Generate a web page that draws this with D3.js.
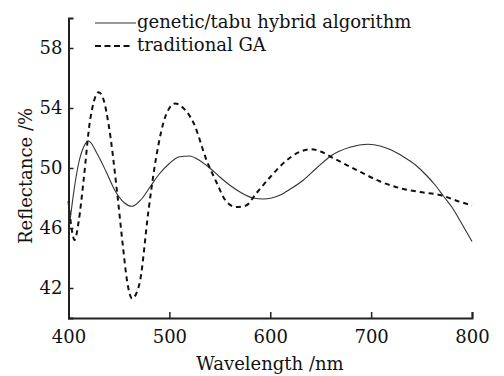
<!DOCTYPE html>
<html>
<head>
<meta charset="utf-8">
<script src="https://cdn.jsdelivr.net/npm/d3@7"></script>
<style>
  html, body { margin: 0; padding: 0; background: #fff; }
</style>
</head>
<body>
<div id="chart"></div>
<script>
// genetic/tabu hybrid algorithm
var hybridWl = [400, 405, 410, 415, 420, 428, 437, 446, 455, 463, 472, 481, 490, 500, 510, 520, 530, 540, 550, 560, 570, 583, 593, 610, 620, 633, 646, 660, 679, 697, 709, 720, 732, 744, 755, 763, 772, 780, 788, 800];
var hybridR  = [45.6, 48.3, 50.3, 51.4, 51.8, 51.0, 49.8, 48.5, 47.7, 47.45, 47.9, 48.75, 49.6, 50.3, 50.75, 50.8, 50.5, 50.0, 49.4, 48.85, 48.4, 48.0, 47.93, 48.2, 48.6, 49.2, 50.0, 50.8, 51.38, 51.58, 51.47, 51.2, 50.75, 50.2, 49.5, 48.9, 48.1, 47.4, 46.5, 45.1];

// traditional GA
var gaWl = [400, 403, 406, 410, 415, 421, 425, 430, 435, 440, 448, 454, 458, 463, 467, 471, 479, 487, 497, 506, 512, 524, 537, 547, 555, 566, 576, 586, 600, 616, 630, 640, 650, 660, 670, 689, 709, 729, 748, 768, 788, 800];
var gaR  = [47.8, 46.0, 45.2, 46.4, 49.2, 53.0, 54.4, 55.05, 54.5, 52.8, 48.5, 44.75, 42.5, 41.3, 41.6, 42.5, 47.0, 50.75, 53.6, 54.3, 54.1, 53.0, 50.5, 49.0, 47.9, 47.4, 47.5, 48.3, 49.4, 50.5, 51.1, 51.25, 51.1, 50.75, 50.4, 49.75, 49.1, 48.65, 48.4, 48.2, 47.75, 47.5];

var xTicks = [400, 500, 600, 700, 800];
var xMinorTicks = [450, 550, 650, 750];
var yTicks = [42, 46, 50, 54, 58];

var legendNames = ["genetic/tabu hybrid algorithm", "traditional GA"];

var font = "DejaVu Serif";

var width = 504, height = 376;
var svg = d3.select("#chart").append("svg")
    .attr("width", width)
    .attr("height", height);

var x = d3.scaleLinear().domain([400, 800]).range([68.5, 472]);
var y = d3.scaleLinear().domain([40, 60]).range([318, 18]);

var line = d3.line()
    .x(function (d) { return x(d[0]); })
    .y(function (d) { return y(d[1]); })
    .curve(d3.curveMonotoneX);

var hybrid = hybridWl.map(function (w, i) { return [w, hybridR[i]]; });
var ga = gaWl.map(function (w, i) { return [w, gaR[i]]; });

svg.append("path")
    .datum(hybrid)
    .attr("d", line)
    .attr("fill", "none")
    .attr("stroke", "#333")
    .attr("stroke-width", 1.1);

svg.append("path")
    .datum(ga)
    .attr("d", line)
    .attr("fill", "none")
    .attr("stroke", "#111")
    .attr("stroke-width", 2)
    .attr("stroke-dasharray", "5,4");

// x axis
var gx = svg.append("g").attr("transform", "translate(0," + y(40) + ")");
gx.call(d3.axisBottom(x).tickValues(xMinorTicks).tickSize(-3).tickFormat(""));
gx.call(d3.axisBottom(x).tickValues(xTicks).tickSize(-6).tickPadding(12).tickFormat(d3.format("d")));

// y axis
var allY = d3.range(40, 61, 1);
var gy = svg.append("g").attr("transform", "translate(" + x(400) + ",0)");
gy.call(d3.axisLeft(y).tickValues(allY).tickSize(-3).tickFormat(""));
gy.call(d3.axisLeft(y).tickValues(allY.filter(function (v) { return v % 2 === 0; })).tickSize(-5).tickFormat(""));
gy.call(d3.axisLeft(y).tickValues(yTicks).tickSize(-5).tickPadding(6).tickFormat(d3.format("d")));

svg.selectAll("g").attr("font-family", font);
svg.selectAll(".domain").attr("stroke", "#222").attr("stroke-width", 2);
svg.selectAll(".tick line").attr("stroke", "#222").attr("stroke-width", 1.5);
svg.selectAll(".tick text")
    .attr("font-size", 18)
    .attr("fill", "#111");

// axis titles
svg.append("text")
    .attr("x", 270)
    .attr("y", 370)
    .attr("text-anchor", "middle")
    .attr("font-family", font)
    .attr("font-size", 18)
    .attr("fill", "#111")
    .text("Wavelength /nm");

svg.append("text")
    .attr("transform", "translate(32,176) rotate(-90)")
    .attr("text-anchor", "middle")
    .attr("font-family", font)
    .attr("font-size", 18)
    .attr("fill", "#111")
    .text("Reflectance /%");

// legend
var legend = svg.selectAll(".legend")
    .data(legendNames)
    .enter().append("g")
    .attr("class", "legend")
    .attr("transform", function (d, i) { return "translate(0," + i * 23 + ")"; });

legend.append("line")
    .attr("x1", 95)
    .attr("x2", function (d, i) { return i === 0 ? 136 : 131; })
    .attr("y1", 23)
    .attr("y2", 23)
    .attr("stroke", function (d, i) { return i === 0 ? "#333" : "#111"; })
    .attr("stroke-width", function (d, i) { return i === 0 ? 1.1 : 2; })
    .attr("stroke-dasharray", function (d, i) { return i === 0 ? null : "6,3.5"; });

legend.append("text")
    .attr("x", 137)
    .attr("y", 28)
    .attr("font-family", font)
    .attr("font-size", 18)
    .attr("fill", "#111")
    .text(function (d) { return d; });
</script>
</body>
</html>
